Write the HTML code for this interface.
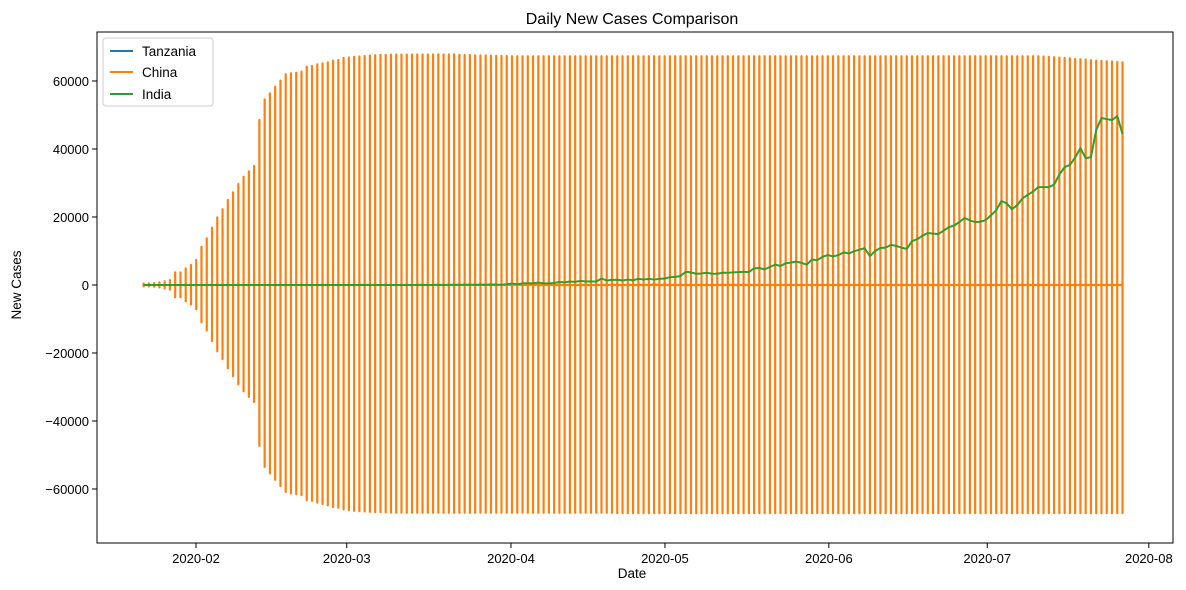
<!DOCTYPE html>
<html><head><meta charset="utf-8"><style>
html,body{margin:0;padding:0;background:#fff;}
svg{display:block;font-family:"Liberation Sans","DejaVu Sans",sans-serif;}
</style></head><body>
<svg id="chart" width="1186" height="590" viewBox="0 0 1186 590">
<rect x="0" y="0" width="1186" height="590" fill="#fff"/>
<text x="632" y="24" text-anchor="middle" font-size="16" fill="#000">Daily New Cases Comparison</text>
<g id="plot"></g>
<g id="axes"></g>
<text x="632" y="578" text-anchor="middle" font-size="13.5" fill="#000">Date</text>
<text x="0" y="0" transform="translate(21,285) rotate(-90)" text-anchor="middle" font-size="13.5" fill="#000">New Cases</text>
<g>
<rect x="103" y="38" width="110" height="68" rx="3" fill="#fff" fill-opacity="0.8" stroke="#ccc"/>
<g><line x1="110" y1="51" x2="133" y2="51" stroke="#1f77b4" stroke-width="2"/><text x="142" y="56" font-size="13.5">Tanzania</text></g>
<g><line x1="110" y1="72" x2="133" y2="72" stroke="#ff7f0e" stroke-width="2"/><text x="142" y="77" font-size="13.5">China</text></g>
<g><line x1="110" y1="94" x2="133" y2="94" stroke="#2ca02c" stroke-width="2"/><text x="142" y="99" font-size="13.5">India</text></g>
</g>
</svg>
<script>
const monthTickDays = [9.96, 38.6, 69.8, 99.06, 130.2, 160.3, 191.0];
const monthTickLabels = ["2020-02","2020-03","2020-04","2020-05","2020-06","2020-07","2020-08"];
const yTicks = [-60000,-40000,-20000,0,20000,40000,60000];
const chinaTop = [
444,444,549,761,1058,1423,3725,3725,4900,5880,
7350,11270,13720,16860,19900,22250,25000,27250,29700,31860,
33430,35000,48530,54600,56370,58330,60100,61960,62250,62450,
62750,64220,64420,64900,65200,65500,66000,66170,66760,66907,
67103,67217,67332,67466,67592,67666,67707,67743,67760,67773,
67781,67786,67790,67794,67798,67799,67800,67800,67800,67800,
67700,67650,67600,67550,67500,67500,67450,67400,67400,67350,
67300,67300,67300,67300,67300,67300,67300,67300,67300,67300,
67300,67300,67300,67300,67300,67300,67300,67300,67300,67300,
67300,67300,67300,67300,67300,67300,67300,67300,67300,67300,
67300,67300,67300,67300,67300,67300,67300,67300,67300,67300,
67300,67300,67300,67300,67300,67300,67300,67300,67300,67300,
67300,67300,67300,67300,67300,67300,67300,67300,67300,67300,
67300,67300,67300,67300,67300,67300,67300,67300,67300,67300,
67300,67300,67300,67300,67300,67300,67300,67300,67300,67300,
67300,67300,67300,67300,67300,67300,67300,67300,67300,67300,
67300,67300,67300,67300,67300,67300,67300,67300,67300,67300,
67300,67200,67100,67000,66900,66800,66700,66500,66400,66300,
66100,66000,65900,65800,65700,65600,65500];
const chinaBottom = [
-400,-400,-500,-700,-1000,-1350,-3600,-3600,-4800,-5700,
-7100,-11000,-13400,-16500,-19500,-21800,-24500,-26800,-29200,-31300,
-32900,-34400,-47300,-53500,-55400,-57300,-59100,-60900,-61300,-61500,
-61800,-63300,-63500,-64000,-64400,-64800,-65300,-65500,-66000,-66200,
-66400,-66500,-66600,-66700,-66800,-66800,-66900,-66900,-67000,-67000,
-67000,-67000,-67000,-67000,-67000,-67000,-67000,-67000,-67000,-67000,
-67000,-67000,-67000,-67000,-67000,-67000,-67000,-67000,-67000,-67000,
-67000,-67000,-67000,-67000,-67000,-67000,-67000,-67000,-67000,-67000,
-67000,-67000,-67000,-67000,-67000,-67000,-67000,-67000,-67000,-67000,
-67100,-67100,-67100,-67100,-67100,-67100,-67100,-67100,-67100,-67100,
-67100,-67100,-67100,-67100,-67100,-67100,-67100,-67100,-67100,-67100,
-67100,-67100,-67100,-67100,-67100,-67100,-67100,-67100,-67100,-67100,
-67100,-67100,-67100,-67100,-67100,-67100,-67100,-67100,-67100,-67100,
-67100,-67100,-67100,-67100,-67100,-67100,-67100,-67100,-67100,-67100,
-67100,-67100,-67100,-67100,-67100,-67100,-67100,-67100,-67100,-67100,
-67100,-67100,-67100,-67100,-67100,-67100,-67100,-67100,-67100,-67100,
-67100,-67100,-67100,-67100,-67100,-67100,-67100,-67100,-67100,-67100,
-67100,-67100,-67100,-67100,-67100,-67100,-67100,-67100,-67100,-67100,
-67100,-67100,-67100,-67100,-67100,-67100,-67100];
const india = [
0,0,0,0,0,0,0,0,0,1,
0,1,1,0,0,0,0,0,0,0,
0,0,0,0,0,0,0,0,0,0,
0,0,0,0,0,0,0,0,0,0,
2,1,22,2,1,3,5,4,13,6,
11,10,9,20,11,6,23,14,38,50,
86,66,103,37,121,70,160,100,92,227,
437,235,478,525,505,704,508,485,591,896,
768,1035,918,1209,1025,1078,1000,1900,1325,1500,
1553,1336,1600,1400,1800,1600,1800,1600,1800,1900,
2300,2400,2600,3900,3700,3300,3400,3600,3300,3300,
3600,3600,3700,3800,3900,3800,4900,5000,4600,5300,
6000,5600,6400,6600,6900,6500,6000,7500,7300,8300,
8800,8400,8800,9600,9300,9900,10400,10800,8500,10000,
10900,11000,11800,11500,11000,10600,12900,13500,14500,15300,
15100,15000,16000,17000,17500,18500,19700,19000,18500,18600,
19100,20500,22000,24700,24000,22300,23500,25500,26500,27500,
28800,28800,28800,29500,32500,34700,35300,37500,40300,37300,
37600,45600,49100,48800,48500,49700,44400];
const tanzania = [
0,0,0,0,0,0,0,0,0,0,0,0,0,0,0,0,0,0,0,0,
0,0,0,0,0,0,0,0,0,0,0,0,0,0,0,0,0,0,0,0,
0,0,0,0,0,0,0,0,0,0,0,0,0,0,1,0,0,1,3,1,
0,0,6,0,0,1,0,6,0,0,0,0,0,1,2,2,0,0,0,0,
14,0,0,0,29,0,53,0,0,84,0,0,0,0,0,0,0,196,0,0,
0,0,0,0,0,0,0,0,0,0,0,0,0,0,0,0,0,0,0,0,
0,0,0,0,0,0,0,0,0,0,0,0,0,0,0,0,0,0,0,0,
0,0,0,0,0,0,0,0,0,0,0,0,0,0,0,0,0,0,0,0,
0,0,0,0,0,0,0,0,0,0,0,0,0,0,0,0,0,0,0,0,
0,0,0,0,0,0,0];

const L=97,R=1173,T=32,B=543;
function xs(d){return 143.6 + d*5.263;}
function ys(v){return 285 - v*68/20000;}
const NS="http://www.w3.org/2000/svg";
const plot=document.getElementById('plot');
const axes=document.getElementById('axes');
function mk(tag,attrs,parent){const e=document.createElementNS(NS,tag);for(const k in attrs)e.setAttribute(k,attrs[k]);parent.appendChild(e);return e;}

let d='';
tanzania.forEach((v,i)=>{d+=(i?'L':'M')+xs(i).toFixed(2)+' '+ys(v).toFixed(2);});
const tz=mk('path',{d:d,fill:'none',stroke:'#1f77b4','stroke-width':2},plot);



d='';
const nC=Math.min(chinaTop.length,chinaBottom.length);
for(let i=0;i<nC;i++){
  const x=xs(i).toFixed(2);
  d+=(i?'L':'M')+x+' '+ys(0).toFixed(2)+'L'+x+' '+ys(chinaTop[i]).toFixed(2)+'L'+x+' '+ys(chinaBottom[i]).toFixed(2)+'L'+x+' '+ys(0).toFixed(2);
}
const ch=mk('path',{d:d,fill:'none',stroke:'#ff7f0e','stroke-width':2.2,'stroke-linejoin':'round'},plot);



d='';
india.forEach((v,i)=>{d+=(i?'L':'M')+xs(i).toFixed(2)+' '+ys(v).toFixed(2);});
const ind=mk('path',{d:d,fill:'none',stroke:'#2ca02c','stroke-width':2,'stroke-linejoin':'round'},plot);



const fr=mk('rect',{x:L,y:T,width:R-L,height:B-T,fill:'none',stroke:'#000','stroke-width':1},axes);



monthTickDays.forEach((dd,i)=>{
  const x=xs(dd);
  const tk=mk('line',{x1:x,y1:B,x2:x,y2:B+5,stroke:'#000'},axes);
  
  
  const t=mk('text',{x:x,y:B+20,'text-anchor':'middle','font-size':13},axes);
  t.textContent=monthTickLabels[i];
  
  
});
yTicks.forEach(v=>{
  const y=ys(v);
  const tk=mk('line',{x1:L-5,y1:y,x2:L,y2:y,stroke:'#000'},axes);
  
  
  const t=mk('text',{x:L-8,y:y+5,'text-anchor':'end','font-size':13},axes);
  t.textContent=(v<0?'\u2212'+(-v):String(v));
  
  
});
</script>
</body></html>
